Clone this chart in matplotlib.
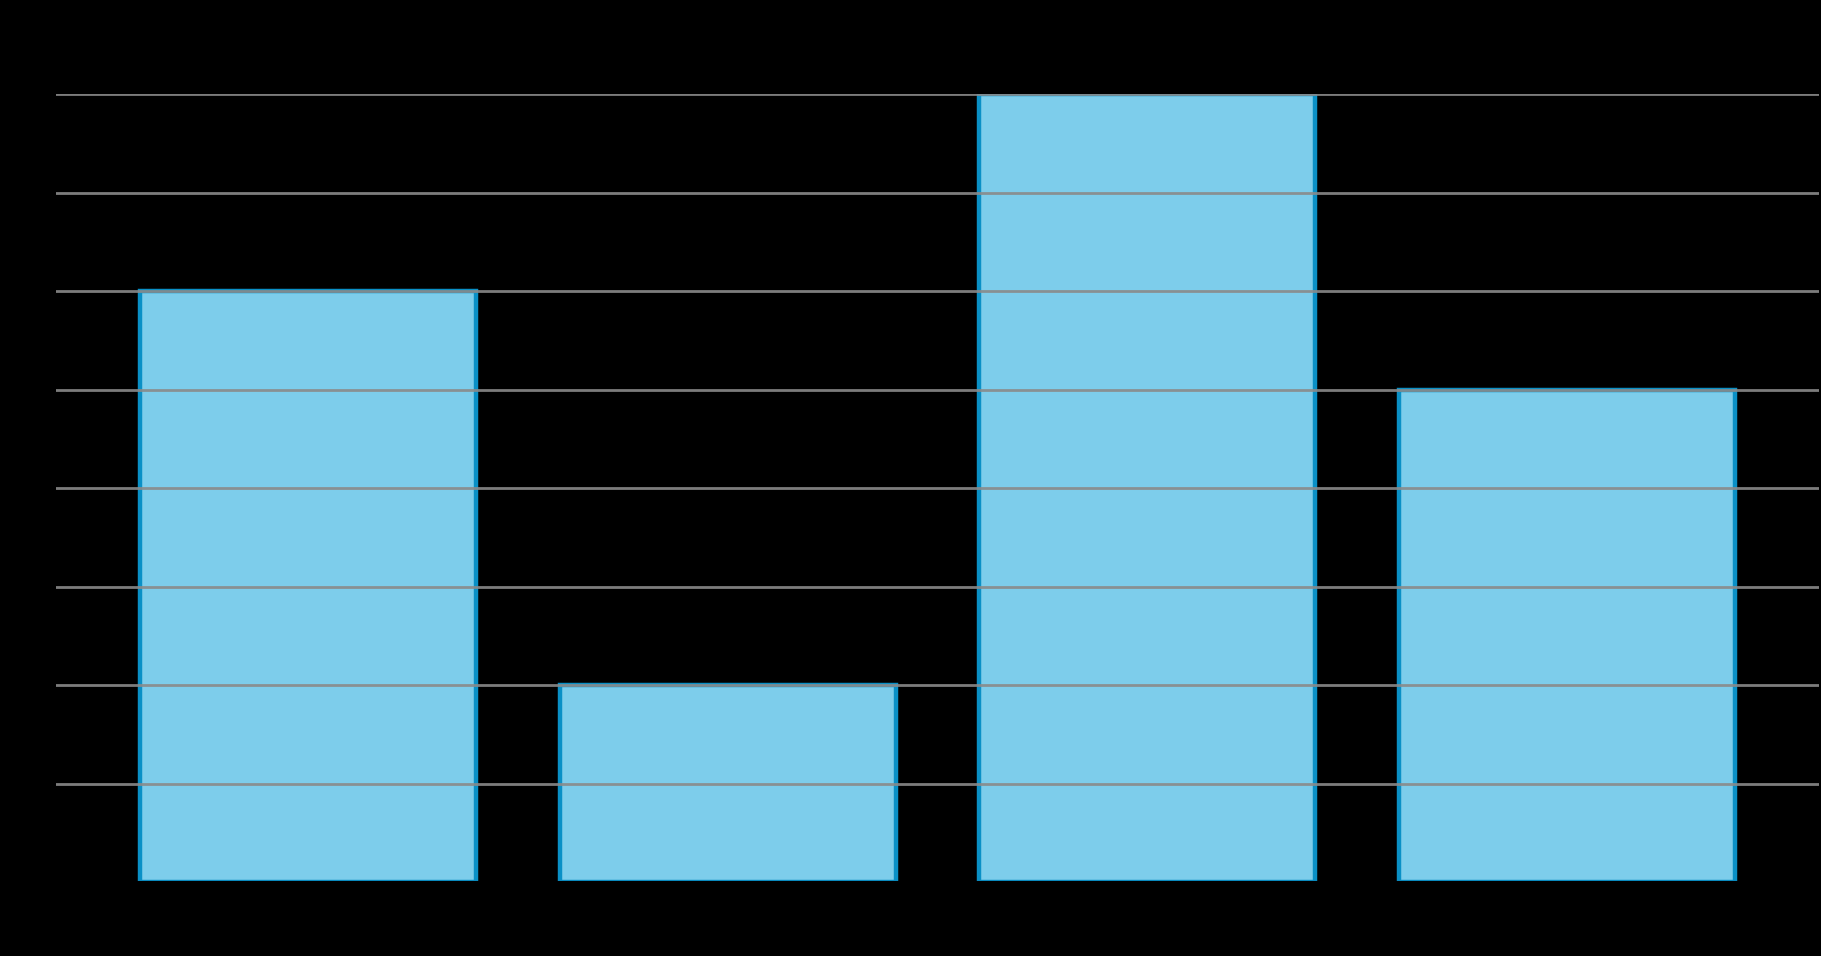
import matplotlib
matplotlib.use('Agg')
import matplotlib.pyplot as plt

# Data (labels are not visible on the black background)
categories = ['A', 'B', 'C', 'D']
values = [6, 2, 8, 5]
y_ticks = [0, 1, 2, 3, 4, 5, 6, 7, 8]

fig = plt.figure(figsize=(18.21, 9.56), dpi=100, facecolor='black')
ax = fig.add_axes([56 / 1821, 74 / 956, 1763 / 1821, 788 / 956])
ax.set_facecolor('black')

ax.bar(range(len(categories)), values, width=0.8,
       color='#7DCDEB', edgecolor='#0A90C6', linewidth=3.2, zorder=2)

ax.set_xlim(-0.6, len(categories) - 0.4)
ax.set_ylim(0, 8)
ax.set_yticks(y_ticks)
ax.set_xticks(range(len(categories)))
ax.set_xticklabels(categories, color='black')
ax.tick_params(colors='black', length=0)

# grid drawn on top of the bars, like the reference
ax.grid(axis='y', color='#8a8a8a', linewidth=2.0, alpha=0.9, zorder=3)
ax.set_axisbelow(False)
ygl = ax.get_ygridlines()
ygl[0].set_visible(False)

for side in ['top', 'right', 'left']:
    ax.spines[side].set_visible(False)
ax.spines['bottom'].set_color('black')
ax.spines['bottom'].set_linewidth(1.5)
ax.spines['bottom'].set_zorder(4)

fig.savefig('out.png', dpi=100, facecolor='black')
